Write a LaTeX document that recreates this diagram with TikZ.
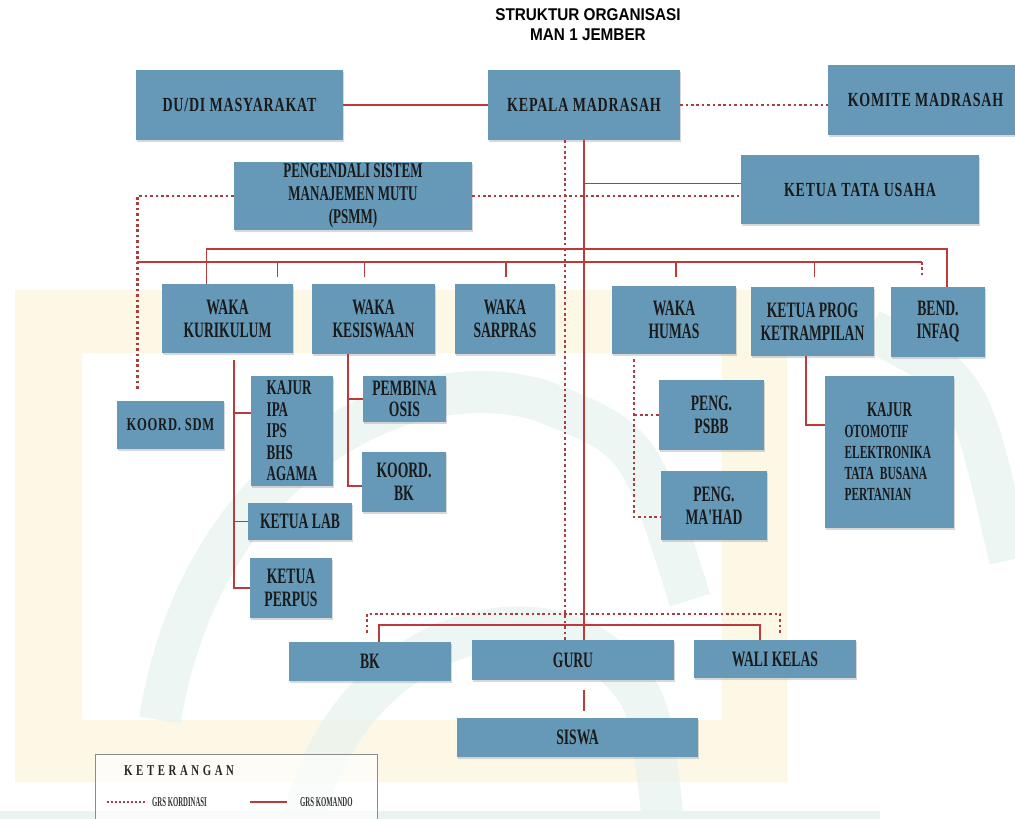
\documentclass[tikz,border=0pt]{standalone}
\usepackage{fontspec}
\setmainfont{Liberation Serif}
\newfontfamily\boxfont[FakeStretch=0.62]{Liberation Serif}
\newfontfamily\headfont[FakeStretch=0.7,LetterSpace=4]{Liberation Serif}
\newfontfamily\legfont[FakeStretch=0.72,LetterSpace=24]{Liberation Serif}
\newfontfamily\tinyfont[FakeStretch=0.5]{Liberation Serif}
\newfontfamily\titlefont[FakeStretch=0.9]{Liberation Sans}
\usetikzlibrary{shadows}

\definecolor{boxblue}{RGB}{102,153,183}
\definecolor{cmdred}{RGB}{188,58,58}
\definecolor{dotred}{RGB}{168,62,62}
\definecolor{wmyellow}{RGB}{253,247,230}
\definecolor{wmgreen}{RGB}{233,244,239}
\definecolor{boxtext}{RGB}{26,26,26}

\begin{document}
\begin{tikzpicture}[
  x=1pt, y=-1pt,
  box/.style={fill=boxblue, text=boxtext, align=center, inner sep=2pt,
              font=\boxfont\bfseries\fontsize{22}{23}\selectfont,
              drop shadow={shadow xshift=0.6pt, shadow yshift=-2pt, opacity=0.3}},
  headbox/.style={box, font=\headfont\bfseries\fontsize{20}{22}\selectfont},
  komando/.style={draw=cmdred, line width=1.7pt},
  kordinasi/.style={draw=dotred, line width=2.6pt, dash pattern=on 2.6pt off 2.8pt},
  lgtext/.style={font=\tinyfont\bfseries\fontsize{13.5}{15}\selectfont, text=black!80, anchor=west, inner sep=0pt},
]

\useasboundingbox (0,0) rectangle (1015,819);
\fill[white] (0,0) rectangle (1015,819);

% watermark
\fill[wmyellow, even odd rule] (15,290) rectangle (787,782) (82,353) rectangle (722,720);
\begin{scope}[wmgreen, line width=42pt, opacity=0.75]
  \draw (160,720) .. controls (200,470) and (400,360) .. (540,400) .. controls (640,440) .. (690,600);
  \draw (300,840) .. controls (330,650) and (520,580) .. (610,660) .. controls (650,700) .. (665,840);
  \draw (870,330) .. controls (970,380) .. (1010,560);
\end{scope}
\fill[wmgreen] (0,811) rectangle (880,819);

% Title
\node[font=\titlefont\bfseries\fontsize{17}{20}\selectfont, align=center] (title) at (588,25)
  {STRUKTUR ORGANISASI\\MAN 1 JEMBER};

% Top level
\node[headbox, minimum width=207pt, minimum height=70pt] (dudi) at (239.5,105) {DU/DI MASYARAKAT};
\node[headbox, minimum width=192pt, minimum height=70pt] (kepala) at (584,105) {KEPALA MADRASAH};
\node[headbox, minimum width=195pt, minimum height=70pt] (komite) at (925.5,100) {KOMITE MADRASAH};
\node[box, font=\boxfont\bfseries\fontsize{21}{23}\selectfont, minimum width=238pt, minimum height=68pt]
  (psmm) at (353,196) {PENGENDALI SISTEM\\MANAJEMEN MUTU\\(PSMM)};
\node[headbox, minimum width=238pt, minimum height=69pt] (tu) at (860,189.5) {KETUA TATA USAHA};

% Waka row
\node[box, minimum width=131pt, minimum height=69pt] (kurikulum) at (227.5,318.5) {WAKA\\KURIKULUM};
\node[box, minimum width=123pt, minimum height=70pt] (kesiswaan) at (373.5,319) {WAKA\\KESISWAAN};
\node[box, minimum width=100pt, minimum height=70pt] (sarpras) at (505,319) {WAKA\\SARPRAS};
\node[box, minimum width=124pt, minimum height=68pt] (humas) at (674,320) {WAKA\\HUMAS};
\node[box, minimum width=123pt, minimum height=69pt] (ketrampilan) at (812.5,321.5) {KETUA PROG\\KETRAMPILAN};
\node[box, minimum width=94pt, minimum height=70pt] (infaq) at (938,322) {BEND.\\INFAQ};

% Second level
\node[headbox, font=\headfont\bfseries\fontsize{18}{20}\selectfont, minimum width=107pt, minimum height=48pt]
  (sdm) at (170.5,425) {KOORD. SDM};
\node[box, align=left, font=\boxfont\bfseries\fontsize{21}{21.5}\selectfont, minimum width=82pt, minimum height=110pt]
  (kajur) at (292,431) {KAJUR\\IPA\\IPS\\BHS\\AGAMA};
\node[box, minimum width=104pt, minimum height=37pt] (lab) at (300,521.5) {KETUA LAB};
\node[box, minimum width=82pt, minimum height=60pt] (perpus) at (291,588) {KETUA\\PERPUS};
\node[box, font=\boxfont\bfseries\fontsize{22}{21}\selectfont, minimum width=83pt, minimum height=46pt]
  (osis) at (404.5,399) {PEMBINA\\OSIS};
\node[box, minimum width=84pt, minimum height=60pt] (kbk) at (404,482) {KOORD.\\BK};
\node[box, minimum width=105pt, minimum height=70pt] (psbb) at (711.5,415) {PENG.\\PSBB};
\node[box, minimum width=106pt, minimum height=69pt] (mahad) at (714,505.5) {PENG.\\MA'HAD};
\node[box, text width=90pt, align=left, font=\boxfont\bfseries\fontsize{18.5}{21}\selectfont,
      minimum width=129pt, minimum height=152pt]
  (kajurb) at (889.5,452) {\hfill{\fontsize{21}{21}\selectfont KAJUR}\hfill\null\\OTOMOTIF\\ELEKTRONIKA\\TATA BUSANA\\PERTANIAN};

% Bottom level
\node[box, minimum width=162pt, minimum height=39pt] (bk) at (370,661.5) {BK};
\node[box, minimum width=202pt, minimum height=40pt] (guru) at (573,660) {GURU};
\node[box, minimum width=162pt, minimum height=38pt] (wali) at (775,659) {WALI KELAS};
\node[box, minimum width=241pt, minimum height=39pt] (siswa) at (577.5,737.5) {SISWA};

% Lines from the head
\draw[komando] (dudi) -- (kepala);
\draw[kordinasi] (kepala.east) -- (kepala.east -| komite.west);
\draw[komando] (kepala.south) -- (kepala.south |- guru.north);
\draw[kordinasi] ([xshift=-19pt]kepala.south) -- ([xshift=-19pt]kepala.south |- guru.north);
\draw[komando] ([yshift=6pt]tu.west) -- ([yshift=6pt]tu.west -| kepala.south);
\draw[kordinasi] (psmm.east) -- (psmm.east -| tu.west);
\draw[kordinasi, shorten >=10pt] (psmm.west) -| ([xshift=-33pt]sdm.north);

% Buses
\coordinate (busA) at (0,249);
\coordinate (busB) at (137,262);
\coordinate (busBend) at (922,262);
\draw[komando] ([xshift=-21pt]kurikulum.north) |- ([xshift=9pt]infaq.north |- busA) -- ([xshift=9pt]infaq.north);
\draw[komando] (busB) -- (busBend);
\foreach \n/\dx in {kurikulum/50, kesiswaan/-9, sarpras/1, humas/2, ketrampilan/2}
  \draw[komando] ([xshift=\dx pt]\n.north |- busB) -- ++(0,15);
\draw[kordinasi] (busBend) -- ++(0,15);

% Branches
\coordinate (kurline) at ([xshift=6.5pt]kurikulum.south);
\draw[komando] ([yshift=-7pt]kurline) |- (perpus.west);
\foreach \n/\dy in {kajur/18, lab/0}
  \draw[komando] ([yshift=\dy pt]\n.west) -- ([yshift=\dy pt]\n.west -| kurline);

\coordinate (kesline) at ([xshift=-25.5pt]kesiswaan.south);
\draw[komando] (kesline) |- ([yshift=-4pt]kbk.west);
\draw[komando] (osis.west) -- (osis.west -| kesline);

\coordinate (humline) at ([xshift=-40pt,yshift=-5pt]humas.south);
\draw[kordinasi] (humline) |- ([yshift=-11.5pt]mahad.west);
\draw[kordinasi] (psbb.west) -- (psbb.west -| humline);

\draw[komando] ([xshift=-6.5pt]ketrampilan.south) |- ([yshift=27pt]kajurb.west);

% Bottom lines
\draw[kordinasi] ([xshift=-3pt,yshift=9pt]bk.north) -- ++(0,-19) -| ([xshift=5pt,yshift=7pt]wali.north);
\draw[komando] ([xshift=9pt]bk.north) -- ++(0,-17) -| ([xshift=-15pt]wali.north);
\draw[komando, shorten <=10pt, shorten >=7pt] (guru.south -| kepala.south) -- (siswa.north -| kepala.south);

% Legend
\node[draw=black!45, line width=0.6pt, fill=white, fill opacity=0.7,
      minimum width=282pt, minimum height=90pt] (legend) at (236,799) {};
\node[font=\legfont\bfseries\fontsize{15}{18}\selectfont, text=black!85, anchor=west, inner sep=0pt]
  (keterangan) at (124,771) {KETERANGAN};
\coordinate (kordA) at (107,802);
\coordinate (kordB) at (147,802);
\draw[draw=dotred, line width=1.6pt, dash pattern=on 1.6pt off 2.4pt] (kordA) -- (kordB);
\node[lgtext] (lgkord) at (152,802) {GRS KORDINASI};
\coordinate (komA) at (250,802);
\coordinate (komB) at (287,802);
\draw[komando, line width=2.2pt] (komA) -- (komB);
\node[lgtext] (lgkom) at (300,802) {GRS KOMANDO};

\end{tikzpicture}
\end{document}
